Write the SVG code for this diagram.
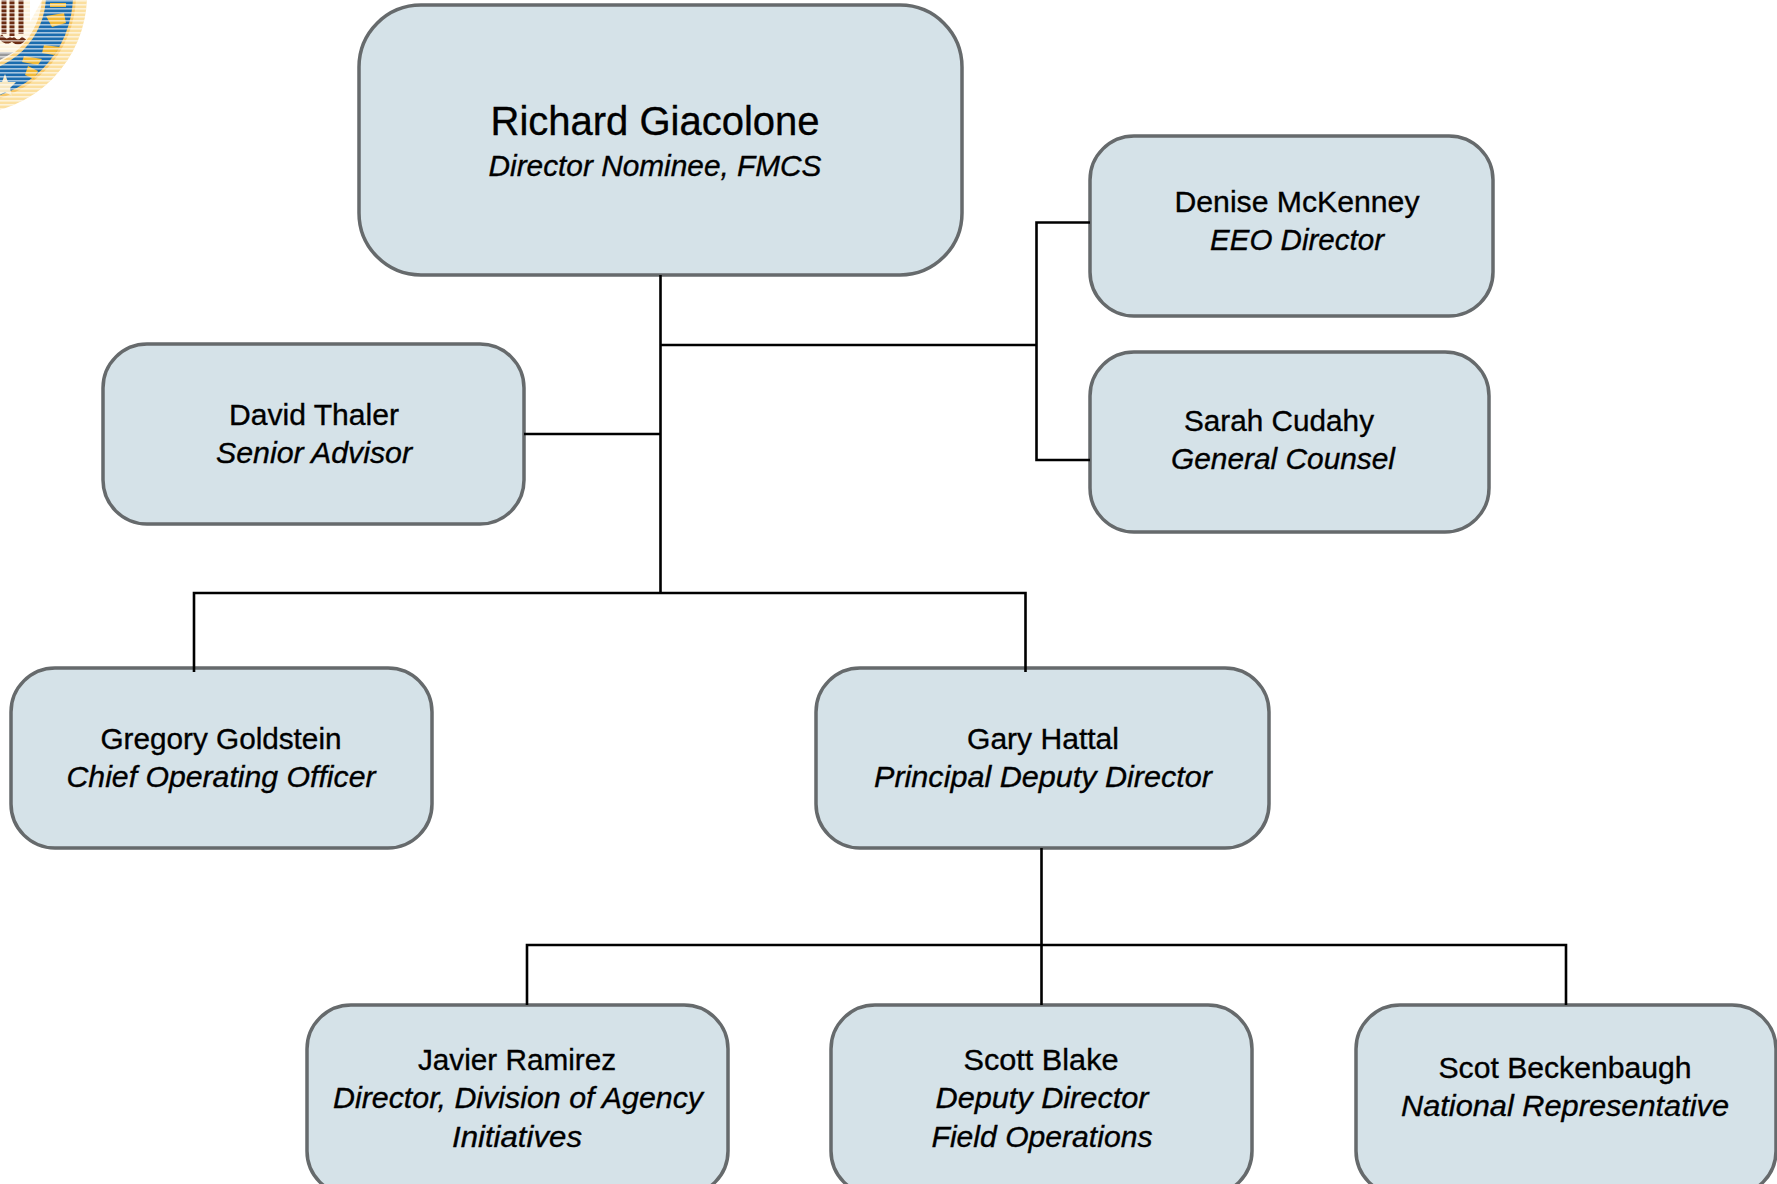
<svg xmlns="http://www.w3.org/2000/svg" width="1777" height="1184" viewBox="0 0 1777 1184">
<style>
.b{fill:#d5e2e8;stroke:#666a6c;stroke-width:3.5}
.c{fill:none;stroke:#000;stroke-width:2.6}
text{font-family:"Liberation Sans","Arial",sans-serif;fill:#000;stroke:#000;stroke-width:.35;text-anchor:middle;font-size:30px}
.i{font-style:italic}
.l{font-size:40px}
</style>
<defs>
<pattern id="st" width="4" height="4" patternUnits="userSpaceOnUse"><rect width="4" height="1.6" fill="#fff" fill-opacity=".6"/></pattern>
</defs>
<g id="seal">
<circle cx="-32" cy="-5" r="119" fill="#fbdf9f"/>
<circle cx="-32" cy="-5" r="108" fill="#f6c667"/>
<circle cx="-32" cy="-5" r="105" fill="#1b6cae"/>
<circle cx="-32" cy="-5" r="78" fill="#f8cf7c"/>
<circle cx="-32" cy="-5" r="74" fill="#fdf3dc"/>
<path d="M30 0L30 22L42 0Z" fill="#fff"/>
<path d="M0 36Q6 45 12 38M12 0V36M4 0V34M12 38Q18 46 24 38M21 0V34" stroke="#6b2c12" stroke-width="5" fill="none"/>
<path d="M0 52H14L0 60Z" fill="#999"/>
<path d="M46 16l18-3 2 10-14 4zM50 3h16v4h-16zM44 45l16 2-6 8-12-2zM24 56l18 3-4 6-16-3zM28 66l10 5-4 8-9-4z" fill="#f2b937"/>
<path d="M5 74l3 8h8l-6 6 2 8-7-4-7 4 2-8-6-6h8z" fill="#f6e7c0"/>
<circle cx="-32" cy="-5" r="119" fill="url(#st)"/>
</g>
<g id="richard"><rect class="b" x="359" y="5" width="603" height="270" rx="62"/><text class="l" x="655" y="135" textLength="329" lengthAdjust="spacingAndGlyphs">Richard Giacolone</text><text class="i" x="655" y="176" textLength="333" lengthAdjust="spacingAndGlyphs">Director Nominee, FMCS</text></g>
<g id="denise"><rect class="b" x="1090" y="136" width="403" height="180" rx="44"/><text x="1297" y="212" textLength="245" lengthAdjust="spacingAndGlyphs">Denise McKenney</text><text class="i" x="1297" y="250" textLength="174" lengthAdjust="spacingAndGlyphs">EEO Director</text></g>
<g id="sarah"><rect class="b" x="1090" y="352" width="399" height="180" rx="44"/><text x="1279" y="431" textLength="190" lengthAdjust="spacingAndGlyphs">Sarah Cudahy</text><text class="i" x="1283" y="469" textLength="224" lengthAdjust="spacingAndGlyphs">General Counsel</text></g>
<g id="david"><rect class="b" x="103" y="344" width="421" height="180" rx="44"/><text x="314" y="425" textLength="170" lengthAdjust="spacingAndGlyphs">David Thaler</text><text class="i" x="314" y="463" textLength="196" lengthAdjust="spacingAndGlyphs">Senior Advisor</text></g>
<g id="gregory"><rect class="b" x="11" y="668" width="421" height="180" rx="44"/><text x="221" y="749" textLength="241" lengthAdjust="spacingAndGlyphs">Gregory Goldstein</text><text class="i" x="221" y="787" textLength="309" lengthAdjust="spacingAndGlyphs">Chief Operating Officer</text></g>
<g id="gary"><rect class="b" x="816" y="668" width="453" height="180" rx="44"/><text x="1043" y="749" textLength="152" lengthAdjust="spacingAndGlyphs">Gary Hattal</text><text class="i" x="1043" y="787" textLength="338" lengthAdjust="spacingAndGlyphs">Principal Deputy Director</text></g>
<g id="javier"><rect class="b" x="307" y="1005" width="421" height="190" rx="44"/><text x="517" y="1070" textLength="198" lengthAdjust="spacingAndGlyphs">Javier Ramirez</text><text class="i" x="518" y="1108" textLength="370" lengthAdjust="spacingAndGlyphs">Director, Division of Agency</text><text class="i" x="517" y="1147" textLength="130" lengthAdjust="spacingAndGlyphs">Initiatives</text></g>
<g id="scott"><rect class="b" x="831" y="1005" width="421" height="190" rx="44"/><text x="1041" y="1070" textLength="155" lengthAdjust="spacingAndGlyphs">Scott Blake</text><text class="i" x="1042" y="1108" textLength="213" lengthAdjust="spacingAndGlyphs">Deputy Director</text><text class="i" x="1042" y="1147" textLength="221" lengthAdjust="spacingAndGlyphs">Field Operations</text></g>
<g id="scot"><rect class="b" x="1356" y="1005" width="420" height="190" rx="44"/><text x="1565" y="1078" textLength="253" lengthAdjust="spacingAndGlyphs">Scot Beckenbaugh</text><text class="i" x="1565" y="1116" textLength="328" lengthAdjust="spacingAndGlyphs">National Representative</text></g>
<g id="connectors">
<path class="c" d="M660.500 275V593M524 434H660.500M660.500 345H1036M1090 222.500H1036.500V460H1090M194 672V593H1025.500V672"/>
<path class="c" d="M1041.500 848V1005M527 1005V945H1566V1005"/>
</g>
</svg>
